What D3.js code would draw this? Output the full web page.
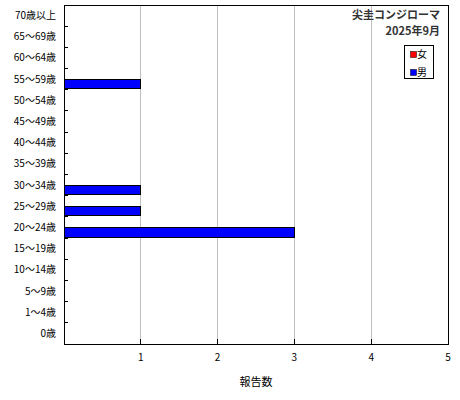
<!DOCTYPE html>
<html><head><meta charset="utf-8">
<script src="https://cdn.jsdelivr.net/npm/d3@7"></script>
<style>body{margin:0;background:#fff;} text{font-family:"Noto Sans CJK JP","DejaVu Sans",sans-serif;}</style>
</head><body>
<svg id="chart" width="460" height="400"></svg>
<script>
const categories = ["70歳以上","65～69歳","60～64歳","55～59歳","50～54歳","45～49歳","40～44歳","35～39歳","30～34歳","25～29歳","20～24歳","15～19歳","10～14歳","5～9歳","1～4歳","0歳"];
const seriesNames = ["女","男"];
const female = [0,0,0,0,0,0,0,0,0,0,0,0,0,0,0,0];
const male   = [0,0,0,1,0,0,0,0,1,1,3,0,0,0,0,0];
const xTicks = [1,2,3,4,5];
const colors = ["#ff0000","#0000ff"];
const titleLines = ["尖圭コンジローマ","2025年9月"];
const xTitle = "報告数";

const svg = d3.select("#chart");
const L = 64, R = 448, T = 5, B = 344;
const x = d3.scaleLinear().domain([0,5]).range([L,R]);
const y = d3.scaleBand().domain(categories).range([T,B]);
const inner = d3.scaleBand().domain(seriesNames).range([0,y.bandwidth()]).paddingOuter(0.1);

// gridlines
svg.append("g").selectAll("line").data(xTicks.slice(0,-1)).join("line")
  .attr("x1",d=>x(d)).attr("x2",d=>x(d)).attr("y1",T).attr("y2",B)
  .attr("stroke","#c0c0c0").attr("stroke-width",1).attr("shape-rendering","crispEdges");

// bars
const data = [female, male];
data.forEach((vals,si)=>{
  svg.append("g").selectAll("rect").data(categories.map((c,i)=>({c,v:vals[i]})).filter(d=>d.v>0)).join("rect")
    .attr("x",x(0)).attr("y",d=>y(d.c)+inner(seriesNames[si]))
    .attr("width",d=>x(d.v)-x(0)).attr("height",inner.bandwidth())
    .attr("fill",colors[si]).attr("stroke","#000").attr("stroke-width",1)
    .attr("shape-rendering","crispEdges");
});

// frame
svg.append("rect").attr("x",L).attr("y",T).attr("width",R-L).attr("height",B-T)
  .attr("fill","none").attr("stroke","#000").attr("stroke-width",1).attr("shape-rendering","crispEdges");

// y axis: ticks inside at band boundaries
const yAxis = svg.append("g").attr("transform",`translate(${L},0)`);
yAxis.selectAll("line").data(categories.slice(1)).join("line")
  .attr("x1",0).attr("x2",4).attr("y1",d=>y(d)).attr("y2",d=>y(d))
  .attr("stroke","#000").attr("shape-rendering","crispEdges");
yAxis.selectAll("text").data(categories).join("text")
  .attr("x",-8).attr("y",d=>y(d)+y.bandwidth()/2).attr("dy","0.35em")
  .attr("text-anchor","end").attr("font-size",10).attr("fill","#000").text(d=>d);

// x axis
const xAxis = svg.append("g");
xAxis.selectAll("line").data(xTicks).join("line")
  .attr("x1",d=>x(d)).attr("x2",d=>x(d)).attr("y1",B-5).attr("y2",B)
  .attr("stroke","#000").attr("shape-rendering","crispEdges");
xAxis.selectAll("text").data(xTicks).join("text")
  .attr("x",d=>x(d)).attr("y",357).attr("dy","0.35em")
  .attr("text-anchor","middle").attr("font-size",10).attr("fill","#000").text(d=>d);
svg.append("text").attr("x",256).attr("y",382).attr("dy","0.35em")
  .attr("text-anchor","middle").attr("font-size",11).text(xTitle);

// title
svg.selectAll("text.title").data(titleLines).join("text").attr("class","title")
  .attr("x",440).attr("y",(d,i)=>18.5+i*16).attr("text-anchor","end")
  .attr("font-size",11).attr("font-weight","bold").attr("fill","#333").text(d=>d);

// legend
const lg = svg.append("g");
lg.append("rect").attr("x",404.5).attr("y",45.5).attr("width",29).attr("height",33)
  .attr("fill","#fff").attr("stroke","#000");
seriesNames.forEach((s,i)=>{
  lg.append("rect").attr("x",410.5).attr("y",51.5+i*18).attr("width",6).attr("height",6)
    .attr("fill",colors[i]).attr("stroke","#000").attr("stroke-width",0.5);
  lg.append("text").attr("x",417).attr("y",54.5+i*18).attr("dy","0.35em")
    .attr("font-size",10).text(s);
});
</script>
</body></html>
